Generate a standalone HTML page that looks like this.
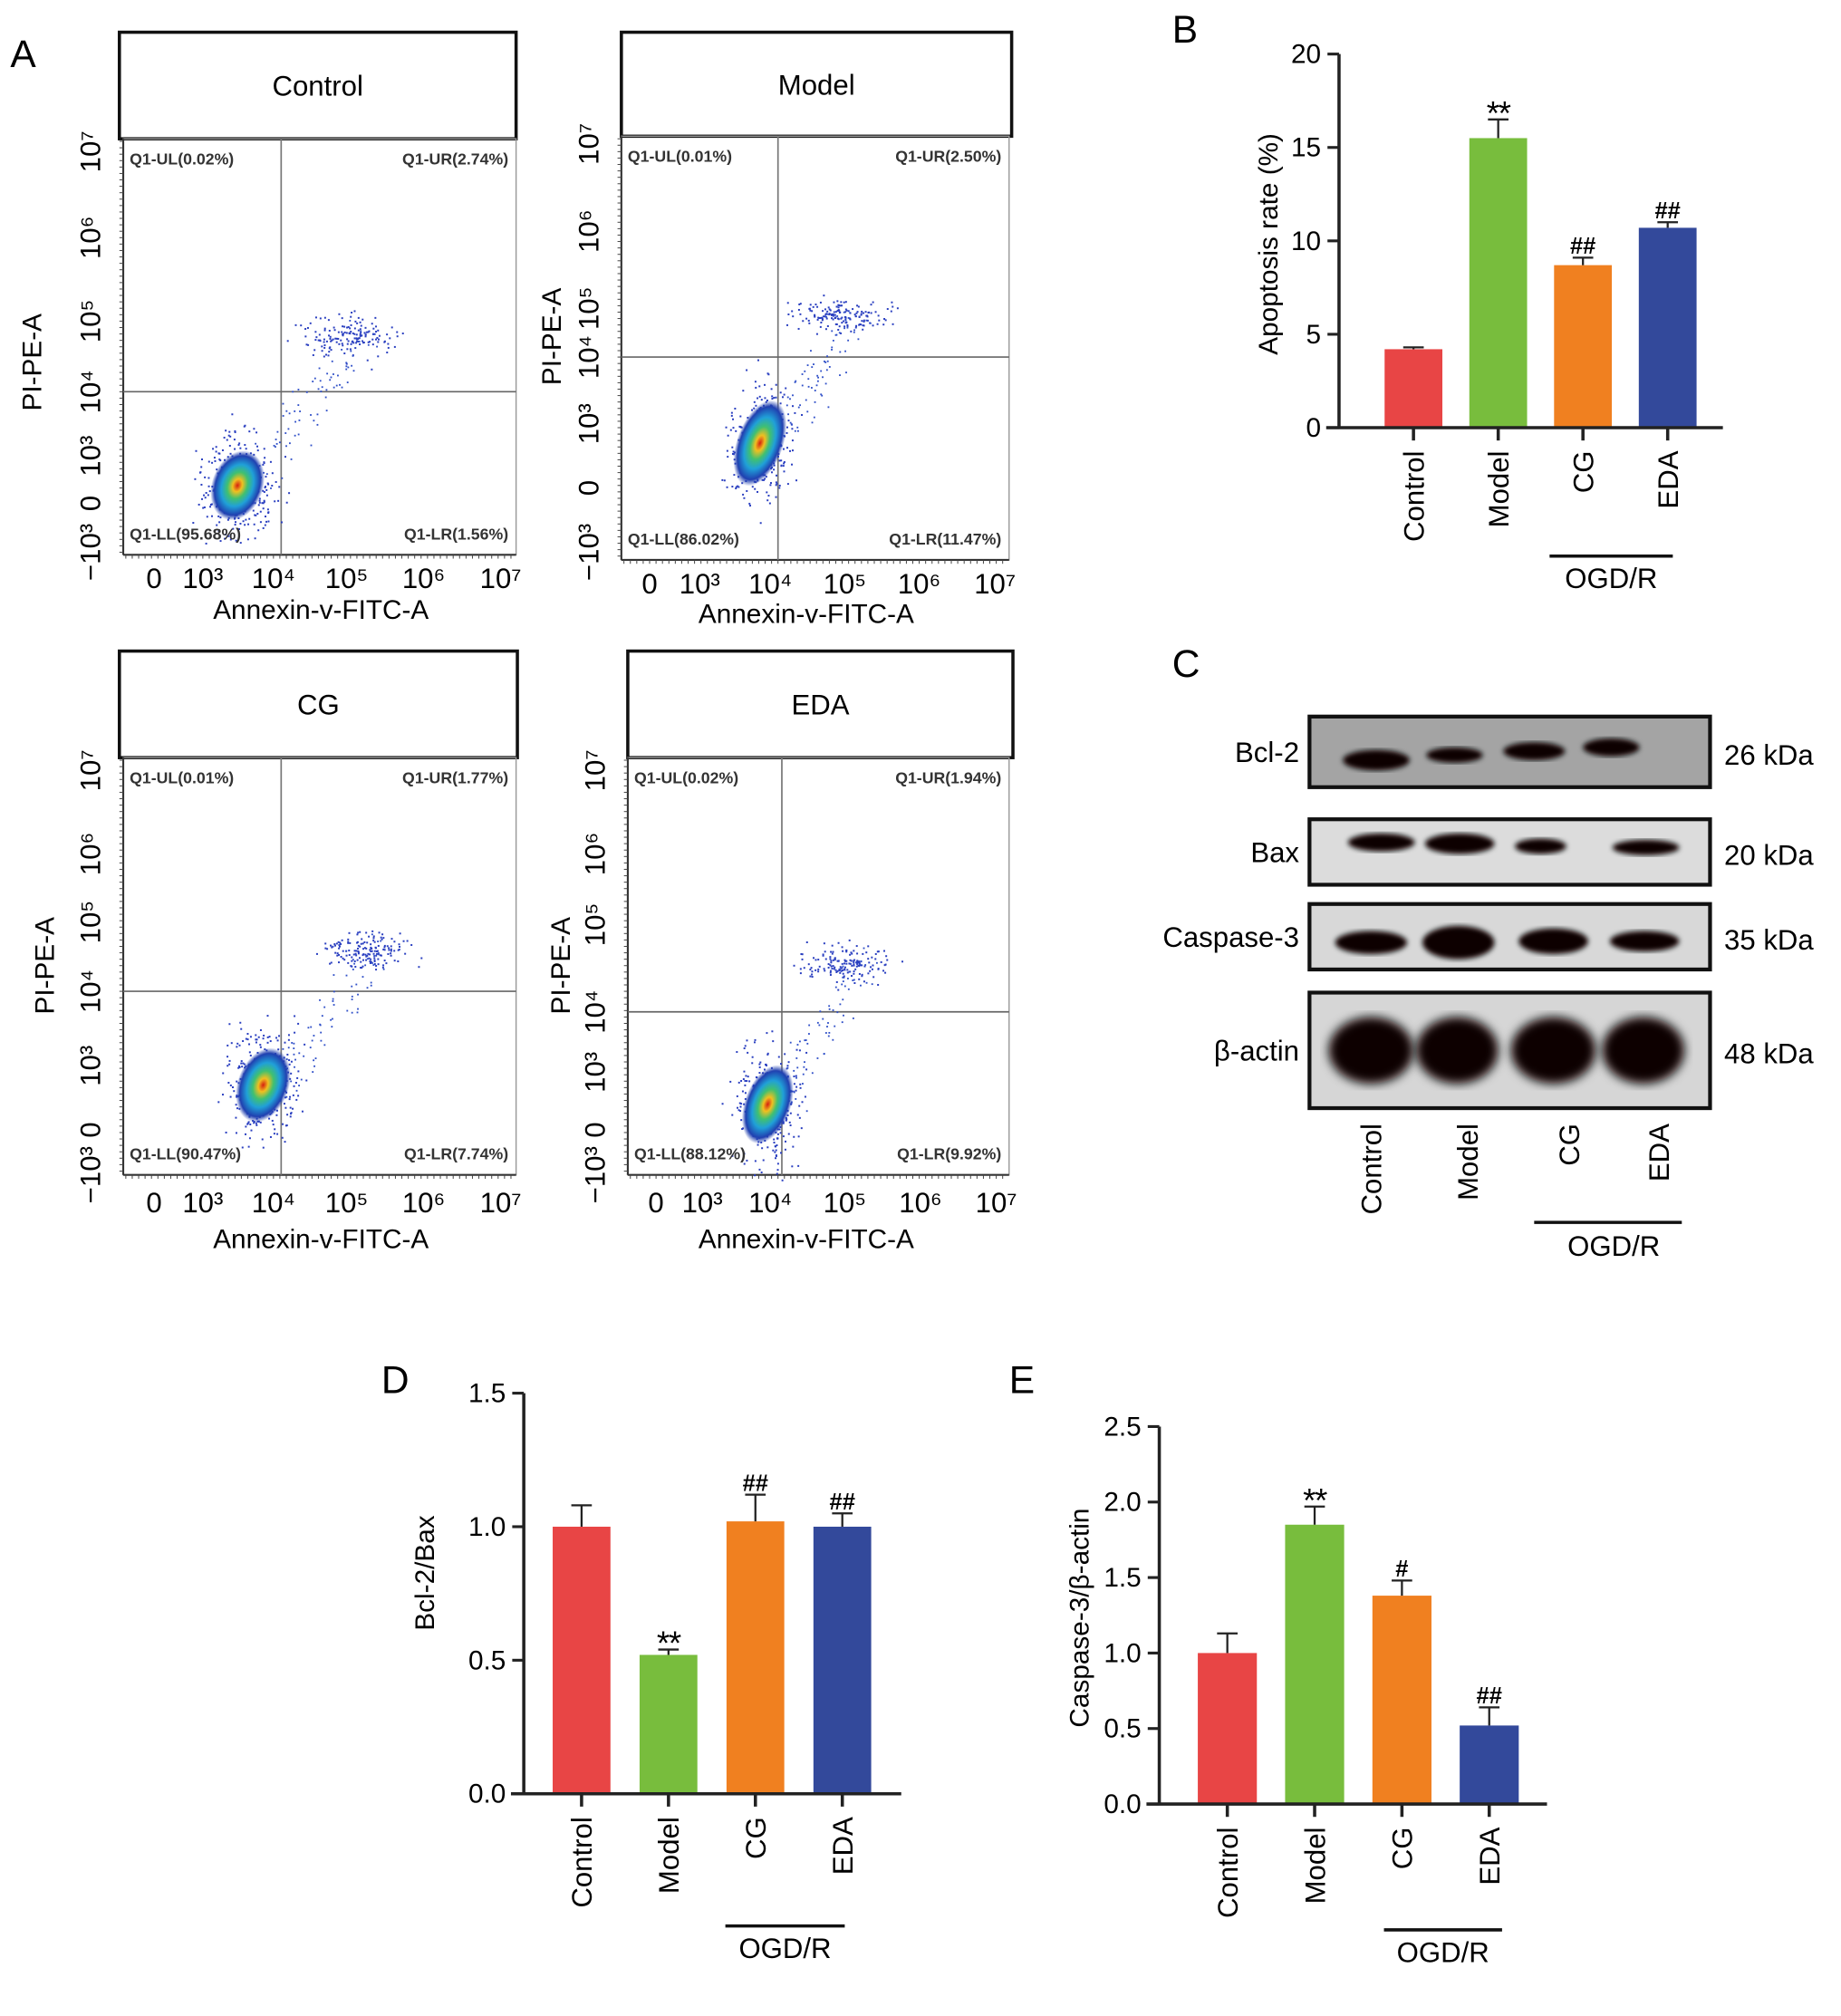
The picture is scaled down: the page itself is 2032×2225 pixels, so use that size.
<!DOCTYPE html>
<html><head><meta charset="utf-8">
<style>
html,body{margin:0;padding:0;background:#fff;}
svg{display:block;font-family:"Liberation Sans",sans-serif;}
</style></head>
<body>
<svg id="fig" xmlns="http://www.w3.org/2000/svg" width="2032" height="2225" viewBox="0 0 1434 1570">
<defs>
<radialGradient id="dens" cx="50%" cy="50%" r="50%">
<stop offset="0" stop-color="#d62010"/>
<stop offset="0.18" stop-color="#f0c020"/>
<stop offset="0.38" stop-color="#40c070"/>
<stop offset="0.6" stop-color="#20a0d8"/>
<stop offset="0.85" stop-color="#2040b0"/>
<stop offset="1" stop-color="#2040b0" stop-opacity="0"/>
</radialGradient>
<filter id="blur2"><feGaussianBlur stdDeviation="4"/></filter>
<filter id="blur1"><feGaussianBlur stdDeviation="2"/></filter>
</defs>
</svg>
<script>
// ---------- data ----------
const groups = ["Control","Model","CG","EDA"];
const apoptosisValues = [4.2, 15.5, 8.7, 10.7];
const apoptosisErrors = [0.1, 1.0, 0.4, 0.3];
const apoptosisMarks = ["", "**", "##", "##"];
const apoptosisTicks = [0,5,10,15,20];
const bclBaxValues = [1.0, 0.52, 1.02, 1.0];
const bclBaxErrors = [0.08, 0.02, 0.1, 0.05];
const bclBaxMarks = ["", "**", "##", "##"];
const bclBaxTicks = [0.0,0.5,1.0,1.5];
const caspValues = [1.0, 1.85, 1.38, 0.52];
const caspErrors = [0.13, 0.12, 0.1, 0.12];
const caspMarks = ["", "**", "#", "##"];
const caspTicks = [0.0,0.5,1.0,1.5,2.0,2.5];
const flowTitles = ["Control","Model","CG","EDA"];
const flowUL = ["0.02%","0.01%","0.01%","0.02%"];
const flowUR = ["2.74%","2.50%","1.77%","1.94%"];
const flowLL = ["95.68%","86.02%","90.47%","88.12%"];
const flowLR = ["1.56%","11.47%","7.74%","9.92%"];
const blotProteins = ["Bcl-2","Bax","Caspase-3","β-actin"];
const blotKDa = ["26 kDa","20 kDa","35 kDa","48 kDa"];
const colors = ["#e84545","#78bd3d","#f08020","#33499b"];

const NS="http://www.w3.org/2000/svg";
const svg=document.getElementById('fig');
function el(tag,attrs,parent,text){const e=document.createElementNS(NS,tag);for(const k in attrs)e.setAttribute(k,attrs[k]);if(text!==undefined)e.textContent=text;(parent||svg).appendChild(e);return e;}

// panel letters
[["A",8,52],["B",913,33],["C",913,527],["D",297,1085],["E",786,1085]].forEach(p=>{
 const t=el('text',{x:p[1],y:p[2],'font-size':30},svg,p[0]);
 
 
});

// ---------- flow plots ----------
let seed=7;function rnd(){seed=(seed*16807)%2147483647;return seed/2147483647;}
function gauss(){return (rnd()+rnd()+rnd()+rnd()-2)/1.2;}
const flowBoxes=[
 {hx:93,hy:25,hw:309,hh:83,px:96,py:108,pw:306,ph:324,vx:219,hz:305,xt:[120,158,213,270,330,390],yt:[118,185,250,305,355,392,430],cl:[185,378,20,28],ur:[270,262,35,14],lab:[250,482],tl:[458],yl:[25,275]},
 {hx:484,hy:25,hw:304,hh:81,px:484,py:106,pw:302,ph:330,vx:606,hz:278,xt:[506,545,600,658,716,775],yt:[112,180,240,278,330,380,430],cl:[592,345,18,35],ur:[655,245,38,10],lab:[628,485],tl:[462],yl:[430,255]},
 {hx:93,hy:507,hw:310,hh:83,px:96,py:590,pw:306,ph:325,vx:219,hz:772,xt:[120,158,213,270,330,390],yt:[600,665,718,772,830,880,915],cl:[205,845,20,30],ur:[285,740,35,12],lab:[250,972],tl:[944],yl:[35,745]},
 {hx:489,hy:507,hw:300,hh:83,px:489,py:590,pw:297,ph:325,vx:609,hz:788,xt:[511,547,600,658,717,776],yt:[600,665,720,788,835,880,915],cl:[598,860,18,32],ur:[660,750,35,12],lab:[628,972],tl:[944],yl:[437,745]}
];
const xtl=["0","10³","10⁴","10⁵","10⁶","10⁷"];
const ytl=["10⁷","10⁶","10⁵","10⁴","10³","0","−10³"];
flowBoxes.forEach((b,i)=>{
 const g=el('g',{});
 
 
 const hd=el('rect',{x:b.hx,y:b.hy,width:b.hw,height:b.hh,fill:'#fff',stroke:'#111','stroke-width':2.5},g);
 
 
 const ht=el('text',{x:b.hx+b.hw/2,y:b.hy+b.hh/2+8,'text-anchor':'middle','font-size':22},g,flowTitles[i]);
 
 
 el('rect',{x:b.px,y:b.py,width:b.pw,height:b.ph,fill:'none',stroke:'#999','stroke-width':1},g);
 el('line',{x1:b.px,y1:b.py,x2:b.px,y2:b.py+b.ph,stroke:'#333','stroke-width':1.5},g);
 el('line',{x1:b.px,y1:b.py+b.ph,x2:b.px+b.pw,y2:b.py+b.ph,stroke:'#333','stroke-width':1.5},g);
 for(let x=b.px+2;x<b.px+b.pw;x+=5)el('line',{x1:x,y1:b.py+b.ph,x2:x,y2:b.py+b.ph+3,stroke:'#444','stroke-width':0.7},g);
 for(let y=b.py+2;y<b.py+b.ph;y+=5)el('line',{x1:b.px,y1:y,x2:b.px-3,y2:y,stroke:'#444','stroke-width':0.7},g);
 el('line',{x1:b.vx,y1:b.py,x2:b.vx,y2:b.py+b.ph,stroke:'#777','stroke-width':1.2},g);
 el('line',{x1:b.px,y1:b.hz,x2:b.px+b.pw,y2:b.hz,stroke:'#666','stroke-width':1.2},g);
 for(let k=0;k<320;k++){const x=b.cl[0]+gauss()*b.cl[2]*1.4,y=b.cl[1]+gauss()*b.cl[3]*1.4;el('rect',{x:x,y:y,width:1.4,height:1.4,fill:'#2a3fc0'},g);}
 for(let k=0;k<160;k++){const x=b.ur[0]+gauss()*b.ur[2],y=b.ur[1]+gauss()*b.ur[3]*1.3;el('rect',{x:x,y:y,width:1.4,height:1.4,fill:'#2a3fc0'},g);}
 for(let k=0;k<80;k++){const t=rnd();const x=b.cl[0]+(b.ur[0]-b.cl[0])*t+gauss()*18+10,y=b.cl[1]+(b.ur[1]-b.cl[1])*t+gauss()*18;el('rect',{x:x,y:y,width:1.3,height:1.3,fill:'#3050c8'},g);}
 const cl=el('ellipse',{cx:b.cl[0],cy:b.cl[1],rx:b.cl[2],ry:b.cl[3],fill:'url(#dens)',transform:`rotate(20 ${b.cl[0]} ${b.cl[1]})`},g);
 
 
 const qs={'font-size':12.5,'font-weight':'bold',fill:'#333'};
 el('text',Object.assign({x:b.px+5,y:b.py+20},qs),g,'Q1-UL('+flowUL[i]+')');
 el('text',Object.assign({x:b.px+b.pw-6,y:b.py+20,'text-anchor':'end'},qs),g,'Q1-UR('+flowUR[i]+')');
 el('text',Object.assign({x:b.px+5,y:b.py+b.ph-12},qs),g,'Q1-LL('+flowLL[i]+')');
 el('text',Object.assign({x:b.px+b.pw-6,y:b.py+b.ph-12,'text-anchor':'end'},qs),g,'Q1-LR('+flowLR[i]+')');
 b.xt.forEach((x,j)=>el('text',{x:x,y:b.tl[0],'text-anchor':'middle','font-size':22},g,xtl[j]));
 b.yt.forEach((y,j)=>el('text',{x:b.px-8,y:y,'text-anchor':'middle','font-size':22,transform:`rotate(-90 ${b.px-8} ${y})`},g,ytl[j]).setAttribute('dy','-10'));
 const xl=el('text',{x:b.lab[0],y:b.lab[1],'text-anchor':'middle','font-size':21},g,'Annexin-v-FITC-A');
 
 
 const yl=el('text',{x:b.yl[0],y:b.yl[1],'text-anchor':'middle','font-size':21,transform:`rotate(-90 ${b.yl[0]+7} ${b.yl[1]})`},g,'PI-PE-A');
 
 
});

// ---------- bar charts ----------
function barChart(cfg){
 const g=el('g',{});
 
 
 const yS=v=>cfg.y0-(v-cfg.ticks[0])/(cfg.ticks[cfg.ticks.length-1]-cfg.ticks[0])*(cfg.y0-cfg.y1);
 const xS=i=>cfg.xc0+i*cfg.step;
 cfg.values.forEach((v,i)=>{
  const bx=xS(i)-cfg.bw/2;
  const r=el('rect',{x:bx,y:yS(v),width:cfg.bw,height:cfg.y0-yS(v),fill:colors[i]},g);
  
  
  const et=yS(v+cfg.err[i]);
  el('line',{x1:xS(i),y1:yS(v),x2:xS(i),y2:et,stroke:'#222','stroke-width':1.6},g);
  el('line',{x1:xS(i)-8,y1:et,x2:xS(i)+8,y2:et,stroke:'#222','stroke-width':1.6},g);
  if(cfg.marks[i]){const star=cfg.marks[i][0]=='*';const m=el('text',{x:xS(i),y:star?et+4:et-3,'text-anchor':'middle','font-size':star?26:18,'font-weight':star?'normal':'bold','letter-spacing':star?'-1':'0'},g,cfg.marks[i]);
   
   }
  el('line',{x1:xS(i),y1:cfg.y0,x2:xS(i),y2:cfg.y0+10,stroke:'#222','stroke-width':2.5},g);
  const tx=xS(i)+8, ty=cfg.y0+18;
  const tl=el('text',{x:tx,y:ty,'text-anchor':'end','font-size':22,transform:`rotate(-90 ${tx} ${ty})`},g,groups[i]);
  
  
 });
 el('line',{x1:cfg.ax,y1:cfg.y1,x2:cfg.ax,y2:cfg.y0+1,stroke:'#222','stroke-width':2.5},g);
 el('line',{x1:cfg.ax-10,y1:cfg.y0,x2:cfg.xend,y2:cfg.y0,stroke:'#222','stroke-width':2.5},g);
 cfg.ticks.forEach(t=>{
  el('line',{x1:cfg.ax-9,y1:yS(t),x2:cfg.ax,y2:yS(t),stroke:'#222','stroke-width':2.2},g);
  el('text',{x:cfg.ax-14,y:yS(t)+7,'text-anchor':'end','font-size':21},g,cfg.fmt(t));
 });
 const yt=el('text',{x:cfg.tx,y:cfg.ty,'text-anchor':'middle','font-size':21,transform:`rotate(-90 ${cfg.tx} ${cfg.ty})`},g,cfg.title);
 
 
 el('line',{x1:cfg.og[0],y1:cfg.og[2],x2:cfg.og[1],y2:cfg.og[2],stroke:'#111','stroke-width':2.5},g);
 const o=el('text',{x:(cfg.og[0]+cfg.og[1])/2,y:cfg.og[2]+25,'text-anchor':'middle','font-size':22},g,'OGD/R');
 
 
}
barChart({name:'apoptosis-chart',values:apoptosisValues,err:apoptosisErrors,marks:apoptosisMarks,ticks:apoptosisTicks,y0:333,y1:42,ax:1043,xend:1342,xc0:1101,step:66,bw:45,fmt:t=>String(t),title:'Apoptosis rate (%)',tx:995,ty:190,og:[1207,1303,433]});
barChart({name:'bcl2-bax-chart',values:bclBaxValues,err:bclBaxErrors,marks:bclBaxMarks,ticks:bclBaxTicks,y0:1397,y1:1085,ax:408,xend:702,xc0:453,step:67.7,bw:45,fmt:t=>t.toFixed(1),title:'Bcl-2/Bax',tx:338,ty:1225,og:[565,658,1500]});
barChart({name:'caspase3-actin-chart',values:caspValues,err:caspErrors,marks:caspMarks,ticks:caspTicks,y0:1405,y1:1111,ax:903,xend:1205,xc0:956,step:68,bw:46,fmt:t=>t.toFixed(1),title:'Caspase-3/β-actin',tx:848,ty:1260,og:[1078,1170,1503]});

// ---------- western blot ----------
const blots=[
 {y:558,h:55,bg:'#a4a4a4',bands:[[1072,592,26,8],[1133,588,22,6],[1195,585,24,7],[1255,582,22,7]]},
 {y:638,h:51,bg:'#dcdcdc',bands:[[1076,656,26,7],[1137,657,27,8],[1200,659,20,6],[1282,660,26,6]]},
 {y:704,h:51,bg:'#d8d8d8',bands:[[1068,734,28,9],[1136,734,28,13],[1210,733,27,10],[1281,733,27,8]]},
 {y:773,h:90,bg:'#d6d6d6',bands:[[1068,818,33,26],[1135,818,32,26],[1210,818,33,26],[1280,818,32,26]]}
];
const bl=el('g',{});


blots.forEach((b,i)=>{
 const r=el('rect',{x:1020,y:b.y,width:312,height:b.h,fill:b.bg,stroke:'#111','stroke-width':3},bl);
 
 
 b.bands.forEach(d=>el('ellipse',{cx:d[0],cy:d[1],rx:d[2],ry:d[3],fill:'#0a0404',filter:i==3?'url(#blur2)':'url(#blur1)'},bl));
 el('text',{x:1012,y:b.y+b.h/2+8,'text-anchor':'end','font-size':22},bl,blotProteins[i]);
 el('text',{x:1343,y:b.y+b.h/2+10,'font-size':22},bl,blotKDa[i]);
});
[1068,1143,1222,1292].forEach((x,i)=>{
 const t=el('text',{x:x+8,y:875,'text-anchor':'end','font-size':22,transform:`rotate(-90 ${x+8} 875)`},bl,groups[i]);
 
 
});
el('line',{x1:1195,y1:952,x2:1310,y2:952,stroke:'#111','stroke-width':2.5},bl);
el('text',{x:1257,y:978,'text-anchor':'middle','font-size':22},bl,'OGD/R');
</script>
</body></html>
